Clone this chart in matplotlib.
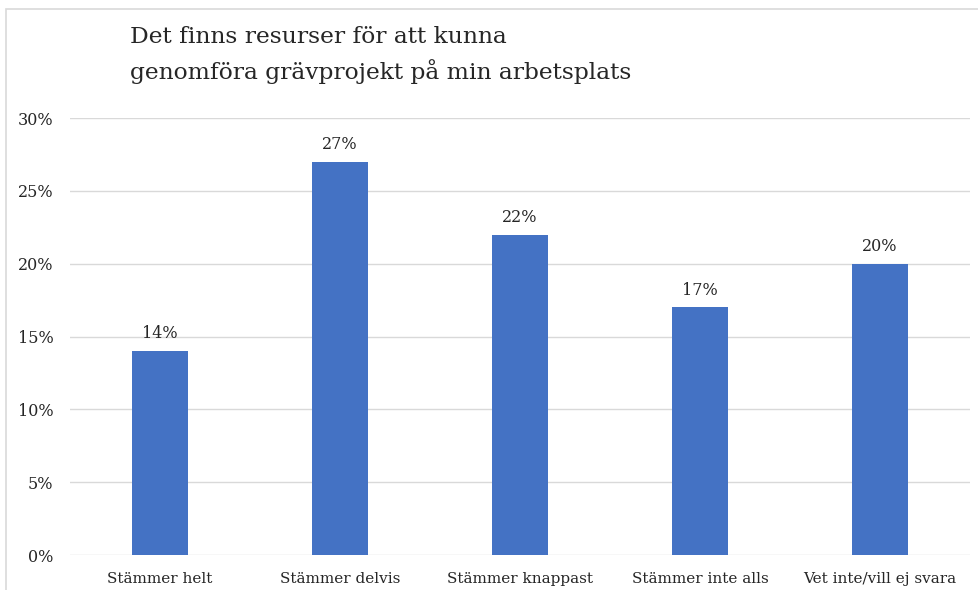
import matplotlib
matplotlib.use("Agg")
import matplotlib.pyplot as plt
from matplotlib.patches import Rectangle
from matplotlib.ticker import PercentFormatter

categories = ["Stämmer helt", "Stämmer delvis", "Stämmer knappast",
              "Stämmer inte alls", "Vet inte/vill ej svara"]
values = [0.14, 0.27, 0.22, 0.17, 0.20]
labels = ["14%", "27%", "22%", "17%", "20%"]
title = "Det finns resurser för att kunna\ngenomföra grävprojekt på min arbetsplats"

plt.rcParams['font.family'] = ['DejaVu Serif']

fig = plt.figure(figsize=(9.79, 5.90), dpi=100)
fig.patches.append(Rectangle((6/979, -0.1), 1.1, (590-9)/590 + 0.1,
                             transform=fig.transFigure, fill=False,
                             edgecolor="#d9d9d9", lw=1.2))

ax = fig.add_axes([70/979, 35/590, 900/979, (555-118)/590])
x = range(len(categories))
ax.bar(x, values, width=0.31, color="#4472C4", zorder=3)
for i, v in enumerate(values):
    ax.text(i, v + 0.006, labels[i], ha="center", va="bottom",
            fontsize=11.5, color="#262626")

ax.set_xlim(-0.5, 4.5)
ax.set_ylim(0, 0.30)
ax.set_yticks([0, 0.05, 0.10, 0.15, 0.20, 0.25, 0.30])
ax.yaxis.set_major_formatter(PercentFormatter(1.0, decimals=0))
ax.set_xticks(list(x))
ax.set_xticklabels(categories, fontsize=11)
ax.tick_params(axis="both", length=0, colors="#262626")
ax.tick_params(axis="y", labelsize=11.5, pad=12)
ax.tick_params(axis="x", pad=12)
ax.grid(axis="y", color="#d9d9d9", lw=1, zorder=0)
for s in ax.spines.values():
    s.set_visible(False)

fig.text(130/979, 1 - 26/590, title, ha="left", va="top", fontsize=16.8,
         color="#262626", linespacing=1.55)

fig.savefig("out.png", dpi=100)
